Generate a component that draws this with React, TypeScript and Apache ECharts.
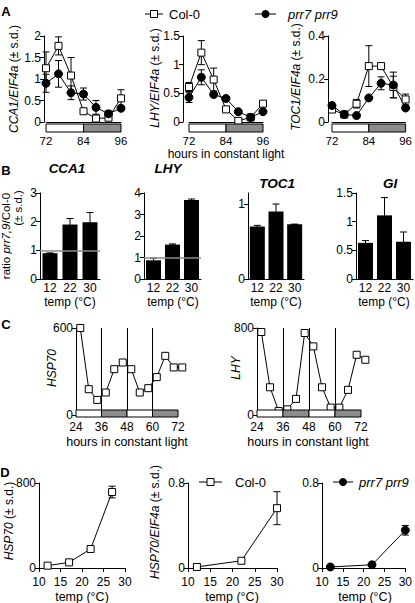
import React, { useEffect, useRef } from "react";
import * as echarts from "echarts";

const FONT = '"Liberation Sans", Arial, Helvetica, sans-serif';
const BLACK = "#000";
const GRAY = "#8c8c8c";

// ---------- Panel A (hours in constant light) ----------
const hoursA = [72, 76, 80, 84, 88, 92, 96];
const cca1Col = [1.25, 1.77, 1.08, 0.25, 0.08, 0.1, 0.55];
const cca1ColSd = [0.38, 0.21, 0.42, 0.03, 0.02, 0.03, 0.2];
const cca1Prr = [0.9, 1.12, 0.68, 0.65, 0.34, 0.19, 0.32];
const cca1PrrSd = [0.21, 0.31, 0.16, 0.14, 0.16, 0.07, 0.05];
const lhyCol = [0.61, 1.21, 0.74, 0.22, 0.02, 0.08, 0.32];
const lhyColSd = [0.08, 0.21, 0.2, 0.04, 0.01, 0.01, 0.04];
const lhyPrr = [0.43, 0.78, 0.48, 0.41, 0.18, 0.08, 0.18];
const lhyPrrSd = [0.09, 0.13, 0.03, 0.03, 0.02, 0.01, 0.02];
const toc1Col = [0.058, 0.035, 0.085, 0.26, 0.26, 0.163, 0.105];
const toc1ColSd = [0.005, 0.003, 0.02, 0.095, 0.01, 0.05, 0.025];
const toc1Prr = [0.077, 0.035, 0.03, 0.112, 0.18, 0.172, 0.065];
const toc1PrrSd = [0.005, 0.003, 0.003, 0.005, 0.03, 0.06, 0.005];
// [start, end, subjective night (1) or day (0)]
const photoperiodA = [
  [72, 84, 0],
  [84, 96, 1],
];

// ---------- Panel B (ratio prr7,9 / Col-0) ----------
const tempsB = ["12", "22", "30"];
const ratioCCA1 = [0.9, 1.9, 1.98];
const ratioCCA1Sd = [0.01, 0.21, 0.34];
const ratioLHY = [0.87, 1.6, 3.68];
const ratioLHYSd = [0.1, 0.03, 0.04];
const ratioTOC1 = [0.7, 0.9, 0.73];
const ratioTOC1Sd = [0.015, 0.1, 0];
const ratioGI = [0.63, 1.11, 0.65];
const ratioGISd = [0.04, 0.31, 0.17];

// ---------- Panel C ----------
const hoursC = [26, 30, 34, 38, 42, 46, 50, 54, 58, 62, 66, 70, 74];
const hsp70C = [600, 178, 104, 155, 316, 362, 316, 155, 185, 261, 408, 328, 328];
const lhyC = [763, 255, 37, 52, 148, 754, 631, 255, 68, 68, 231, 554, 508];
const photoperiodC = [
  [24, 36, 0],
  [36, 48, 1],
  [48, 60, 0],
  [60, 72, 1],
];
const transitionsC = [36, 48, 60];

// ---------- Panel D ----------
const tempsD1 = [12, 17, 22, 27];
const hsp70D = [22, 53, 179, 715];
const hsp70DSd = [5, 5, 10, 55];
const tempsD2 = [12, 22, 30];
const hspEifCol = [0.01, 0.068, 0.563];
const hspEifColSd = [0.005, 0.02, 0.155];
const tempsD3 = [12, 22, 30];
const hspEifPrr = [0.01, 0.03, 0.355];
const hspEifPrrSd = [0.005, 0.005, 0.045];

// ---------- layout ----------
const grids = [
  { left: 46, top: 36, width: 75, height: 86 }, // 0 A CCA1
  { left: 189, top: 36, width: 74, height: 86 }, // 1 A LHY
  { left: 332, top: 36, width: 74, height: 86 }, // 2 A TOC1
  { left: 40, top: 193, width: 60, height: 86 }, // 3 B CCA1
  { left: 144, top: 193, width: 57, height: 86 }, // 4 B LHY
  { left: 248, top: 193, width: 56, height: 86 }, // 5 B TOC1
  { left: 356, top: 193, width: 57, height: 86 }, // 6 B GI
  { left: 76, top: 328, width: 102, height: 87 }, // 7 C HSP70
  { left: 257, top: 328, width: 104, height: 87 }, // 8 C LHY
  { left: 39, top: 483, width: 86, height: 85 }, // 9 D HSP70
  { left: 188, top: 483, width: 89, height: 85 }, // 10 D HSP70/EIF4a Col
  { left: 322, top: 483, width: 85, height: 85 }, // 11 D HSP70/EIF4a prr
];

const labelStyle = (margin: number, fontSize = 12) => ({
  color: BLACK,
  fontSize,
  fontFamily: FONT,
  margin,
});

function yAxis(gi: number, max: number, interval: number, offset = 0, custom?: number[]) {
  const ax: any = {
    type: "value",
    gridIndex: gi,
    min: 0,
    max,
    interval,
    offset,
    axisLine: { show: true, lineStyle: { color: BLACK, width: 1 } },
    axisTick: { show: true, length: 4, lineStyle: { color: BLACK, width: 1 } },
    axisLabel: labelStyle(3),
    splitLine: { show: false },
  };
  if (custom) {
    ax.axisTick.customValues = custom;
    ax.axisLabel = {
      ...ax.axisLabel,
      customValues: custom,
      formatter: (v: number) => (custom.includes(v) ? String(v) : ""),
    };
  }
  return ax;
}

function xValueAxis(gi: number, min: number, max: number, interval: number, opts: any) {
  return {
    type: "value",
    gridIndex: gi,
    min,
    max,
    interval,
    axisLine: { show: opts.line, onZero: false, lineStyle: { color: BLACK, width: 1 } },
    axisTick: { show: opts.ticks, length: 4, lineStyle: { color: BLACK } },
    axisLabel: labelStyle(opts.margin, opts.fontSize || 12),
    splitLine: { show: false },
  };
}

function xCatAxis(gi: number) {
  return {
    type: "category",
    gridIndex: gi,
    data: tempsB,
    axisLine: { show: true, lineStyle: { color: BLACK, width: 1 } },
    axisTick: { show: false },
    axisLabel: labelStyle(3),
  };
}

function errSeries(gi: number, xs: (number | string)[], m: number[], sd: number[], z = 1) {
  return {
    type: "custom",
    xAxisIndex: gi,
    yAxisIndex: gi,
    z,
    silent: true,
    clip: false,
    data: m.map((v, i) => [typeof xs[i] === "number" ? xs[i] : i, v - sd[i], v + sd[i]]),
    encode: { x: 0, y: [1, 2] },
    renderItem: (_p: any, api: any) => {
      const x = api.value(0);
      const t = api.coord([x, api.value(2)]);
      const b = api.coord([x, api.value(1)]);
      const w = 3.5;
      const st = { stroke: BLACK, lineWidth: 1 };
      return {
        type: "group",
        children: [
          { type: "line", shape: { x1: t[0], y1: t[1], x2: b[0], y2: b[1] }, style: st },
          { type: "line", shape: { x1: t[0] - w, y1: t[1], x2: t[0] + w, y2: t[1] }, style: st },
          { type: "line", shape: { x1: b[0] - w, y1: b[1], x2: b[0] + w, y2: b[1] }, style: st },
        ],
      };
    },
  };
}

function periodSeries(gi: number, data: number[][], dy: number, h: number) {
  return {
    type: "custom",
    xAxisIndex: gi,
    yAxisIndex: gi,
    z: 5,
    silent: true,
    clip: false,
    data,
    encode: { x: [0, 1] },
    renderItem: (_p: any, api: any) => {
      const s = api.coord([api.value(0), 0]);
      const e = api.coord([api.value(1), 0]);
      return {
        type: "rect",
        shape: { x: s[0], y: s[1] + dy, width: e[0] - s[0], height: h },
        style: { fill: api.value(2) ? GRAY : "#fff", stroke: BLACK, lineWidth: 1 },
      };
    },
  };
}

function lineSeries(gi: number, xs: number[], ys: number[], kind: "col" | "prr", extra: any = {}) {
  return {
    type: "line",
    xAxisIndex: gi,
    yAxisIndex: gi,
    z: 3,
    clip: false,
    silent: true,
    animation: false,
    data: xs.map((x, i) => [x, ys[i]]),
    symbol: kind === "col" ? "rect" : "circle",
    symbolSize: kind === "col" ? 7 : 8,
    showAllSymbol: true,
    lineStyle: { color: BLACK, width: 1 },
    itemStyle:
      kind === "col"
        ? { color: "#fff", borderColor: BLACK, borderWidth: 1 }
        : { color: BLACK, borderColor: BLACK, borderWidth: 1 },
    emphasis: { disabled: true },
    ...extra,
  };
}

function barSeries(gi: number, vals: number[], refLine: boolean) {
  const s: any = {
    type: "bar",
    xAxisIndex: gi,
    yAxisIndex: gi,
    z: 2,
    silent: true,
    data: vals,
    barWidth: 15,
    itemStyle: { color: BLACK },
    emphasis: { disabled: true },
  };
  if (refLine) {
    s.markLine = {
      silent: true,
      symbol: "none",
      label: { show: false },
      lineStyle: { color: "#8a8a8a", width: 1.5, type: "solid" },
      data: [{ yAxis: 1 }],
    };
  }
  return s;
}

const txt = (x: number, y: number, text: string, style: any = {}, rotation = 0) => ({
  type: "text",
  x,
  y,
  rotation,
  silent: true,
  style: {
    text,
    fontSize: 12,
    fontFamily: FONT,
    fill: BLACK,
    align: "center",
    verticalAlign: "middle",
    ...style,
  },
});

const richIt = (fs: number) => ({
  i: { fontStyle: "italic", fontSize: fs, fontFamily: FONT, fill: BLACK },
  n: { fontSize: fs, fontFamily: FONT, fill: BLACK },
});
const rotName = (x: number, y: number, text: string, fs = 12) =>
  txt(x, y, text, { rich: richIt(fs), fontSize: fs }, Math.PI / 2);

const legendCol = (x1: number, x2: number, y: number, tx: number) => [
  { type: "line", silent: true, shape: { x1, y1: y, x2, y2: y }, style: { stroke: BLACK, lineWidth: 1 } },
  {
    type: "rect",
    silent: true,
    shape: { x: (x1 + x2) / 2 - 3.5, y: y - 3.5, width: 7, height: 7 },
    style: { fill: "#fff", stroke: BLACK, lineWidth: 1 },
  },
  txt(tx, y, "Col-0", { align: "left", fontSize: 13 }),
];
const legendPrr = (x1: number, x2: number, y: number, tx: number) => [
  { type: "line", silent: true, shape: { x1, y1: y, x2, y2: y }, style: { stroke: BLACK, lineWidth: 1 } },
  { type: "circle", silent: true, shape: { cx: (x1 + x2) / 2, cy: y, r: 4 }, style: { fill: BLACK } },
  txt(tx, y, "prr7 prr9", { align: "left", fontSize: 13, fontStyle: "italic" }),
];

const bold = { fontWeight: "bold", fontSize: 13 };
const titleB = { fontWeight: "bold", fontStyle: "italic", fontSize: 13.5 };
const aX = { line: true, ticks: false, margin: 13, fontSize: 11.5 };
const cX = { line: false, ticks: false, margin: 6 };
const dX = { line: true, ticks: true, margin: 8 };

const option: any = {
  animation: false,
  backgroundColor: "#fff",
  grid: grids.map((g) => ({ ...g, containLabel: false })),
  xAxis: [
    xValueAxis(0, 72, 96, 12, aX),
    xValueAxis(1, 72, 96, 12, aX),
    xValueAxis(2, 72, 96, 12, aX),
    xCatAxis(3),
    xCatAxis(4),
    xCatAxis(5),
    xCatAxis(6),
    xValueAxis(7, 24, 72, 12, cX),
    xValueAxis(8, 24, 72, 12, cX),
    xValueAxis(9, 10, 30, 5, dX),
    xValueAxis(10, 10, 30, 5, dX),
    xValueAxis(11, 10, 30, 5, dX),
  ],
  yAxis: [
    yAxis(0, 2, 0.5, 2),
    yAxis(1, 1.5, 0.5, 6),
    yAxis(2, 0.4, 0.2, 4),
    yAxis(3, 3, 1),
    yAxis(4, 4, 1),
    yAxis(5, 1.147, 1, 0, [0, 1]),
    yAxis(6, 1.5, 0.5),
    yAxis(7, 600, 600),
    yAxis(8, 800, 800),
    yAxis(9, 800, 800),
    yAxis(10, 0.8, 0.8),
    yAxis(11, 0.8, 0.8),
  ],
  series: [
    // A
    errSeries(0, hoursA, cca1Col, cca1ColSd),
    errSeries(0, hoursA, cca1Prr, cca1PrrSd),
    lineSeries(0, hoursA, cca1Col, "col"),
    lineSeries(0, hoursA, cca1Prr, "prr"),
    periodSeries(0, photoperiodA, 2, 8),
    errSeries(1, hoursA, lhyCol, lhyColSd),
    errSeries(1, hoursA, lhyPrr, lhyPrrSd),
    lineSeries(1, hoursA, lhyCol, "col"),
    lineSeries(1, hoursA, lhyPrr, "prr"),
    periodSeries(1, photoperiodA, 2, 8),
    errSeries(2, hoursA, toc1Col, toc1ColSd),
    errSeries(2, hoursA, toc1Prr, toc1PrrSd),
    lineSeries(2, hoursA, toc1Col, "col"),
    lineSeries(2, hoursA, toc1Prr, "prr"),
    periodSeries(2, photoperiodA, 2, 8),
    // B
    barSeries(3, ratioCCA1, true),
    errSeries(3, tempsB, ratioCCA1, ratioCCA1Sd, 3),
    barSeries(4, ratioLHY, true),
    errSeries(4, tempsB, ratioLHY, ratioLHYSd, 3),
    barSeries(5, ratioTOC1, false),
    errSeries(5, tempsB, ratioTOC1, ratioTOC1Sd, 3),
    barSeries(6, ratioGI, false),
    errSeries(6, tempsB, ratioGI, ratioGISd, 3),
    // C
    lineSeries(7, hoursC, hsp70C, "col", {
      markLine: {
        silent: true,
        symbol: "none",
        label: { show: false },
        lineStyle: { color: BLACK, width: 1, type: "solid" },
        data: transitionsC.map((h) => ({ xAxis: h })),
      },
    }),
    periodSeries(7, photoperiodC, -5, 7),
    lineSeries(8, hoursC, lhyC, "col", {
      markLine: {
        silent: true,
        symbol: "none",
        label: { show: false },
        lineStyle: { color: BLACK, width: 1, type: "solid" },
        data: transitionsC.map((h) => ({ xAxis: h })),
      },
    }),
    periodSeries(8, photoperiodC, -5, 7),
    // D
    errSeries(9, tempsD1, hsp70D, hsp70DSd),
    lineSeries(9, tempsD1, hsp70D, "col"),
    errSeries(10, tempsD2, hspEifCol, hspEifColSd),
    lineSeries(10, tempsD2, hspEifCol, "col"),
    errSeries(11, tempsD3, hspEifPrr, hspEifPrrSd),
    lineSeries(11, tempsD3, hspEifPrr, "prr"),
  ],
  graphic: [
    // panel letters
    txt(6, 11, "A", bold),
    txt(6, 170, "B", bold),
    txt(6, 324, "C", bold),
    txt(5, 472, "D", bold),
    // legends
    ...legendCol(145, 163, 14, 169),
    ...legendPrr(255, 276, 14, 288),
    ...legendCol(199, 222, 482, 235),
    ...legendPrr(333, 353, 482, 359),
    // A axis names
    rotName(14, 79, "{i|CCA1/EIF4a}{n| (± s.d.)}"),
    rotName(155, 78, "{i|LHY/EIF4a}{n| (± s.d.)}"),
    rotName(296, 77, "{i|TOC1/EIF4a}{n| (± s.d.)}"),
    txt(226, 154, "hours in constant light"),
    // B
    rotName(6, 236, "{n|ratio }{i|prr7,9}{n|/Col-0}", 11.5),
    rotName(18, 208, "{n|(± s.d.)}", 11.5),
    txt(67, 168, "CCA1", titleB),
    txt(168, 168, "LHY", titleB),
    txt(277, 183, "TOC1", titleB),
    txt(390, 183, "GI", titleB),
    txt(70, 302, "temp (°C)"),
    txt(173, 302, "temp (°C)"),
    txt(276, 302, "temp (°C)"),
    txt(384, 302, "temp (°C)"),
    // C
    rotName(52, 368, "{i|HSP70}"),
    rotName(236, 368, "{i|LHY}"),
    txt(127, 442, "hours in constant light", { fontSize: 12.5 }),
    txt(308, 442, "hours in constant light", { fontSize: 12.5 }),
    // D
    rotName(9, 521, "{i|HSP70}{n| (± s.d.)}"),
    rotName(155, 522, "{i|HSP70/EIF4a}{n| (± s.d.)}"),
    txt(82, 597, "temp (°C)", { fontSize: 12.5 }),
    txt(232, 597, "temp (°C)", { fontSize: 12.5 }),
    txt(365, 597, "temp (°C)", { fontSize: 12.5 }),
  ],
};

export default function App() {
  const ref = useRef<HTMLDivElement>(null);
  useEffect(() => {
    if (!ref.current) return;
    const chart = echarts.init(ref.current, null, { renderer: "svg", width: 415, height: 603 });
    chart.setOption(option);
    return () => chart.dispose();
  }, []);
  return (
    <div
      ref={ref}
      style={{ position: "absolute", left: 0, top: 0, width: 415, height: 603, background: "#fff" }}
    />
  );
}
